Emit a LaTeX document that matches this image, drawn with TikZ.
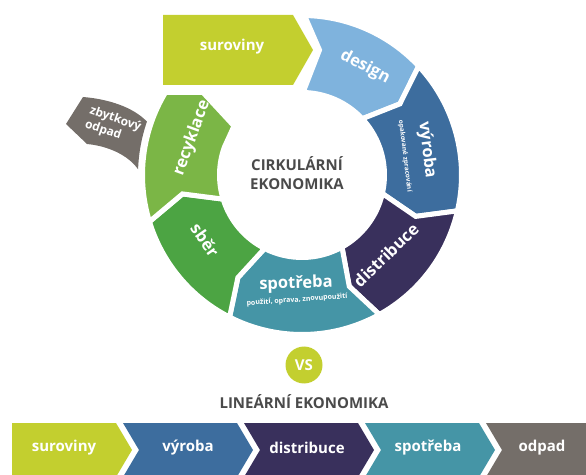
\documentclass[tikz,border=0pt]{standalone}
\usepackage{fontspec}
\setmainfont{Open Sans}
\definecolor{cyel}{HTML}{C3CF2F}
\definecolor{clblue}{HTML}{7FB3DD}
\definecolor{cblue}{HTML}{3D6D9E}
\definecolor{cnavy}{HTML}{39305C}
\definecolor{cteal}{HTML}{4595A6}
\definecolor{cgreen}{HTML}{4CA443}
\definecolor{clgreen}{HTML}{7BB646}
\definecolor{cbrown}{HTML}{746E69}
\definecolor{ctext}{HTML}{4A4A4A}
\begin{document}
\begin{tikzpicture}[x=1pt,y=1pt,
  seg/.style={draw=white, line width=5pt, line join=miter},
  lbl/.style={text=white, font=\bfseries\fontsize{16.5}{18}\selectfont, inner sep=0pt},
  smalllbl/.style={text=white, font=\bfseries\fontsize{6.5}{7}\selectfont, inner sep=0pt},
  lintext/.style={text=white, font=\bfseries\fontsize{15}{16}\selectfont, inner sep=0pt},
  headtext/.style={text=ctext, font=\bfseries\fontsize{15}{19}\selectfont, inner sep=0pt, align=center}]
\useasboundingbox (0,0) rectangle (586,474);
\clip (0,0) rectangle (586,474);

% top raw material arrow
\fill[cyel] (163,459) -- (293,459) -- (313,424) -- (293,389) -- (163,389) -- cycle;
\node[lintext] (surtop) at (232,427) {suroviny};

% ring
\begin{scope}[shift={(302,299)}]
  % design
  \fill[clblue, seg] (89.1:159.5) arc[start angle=89.1, end angle=43, radius=159.5]
    -- (36:121) -- (43:82.5) arc[start angle=43, end angle=89.3, radius=82.5]
    -- (17.5,125) -- cycle;
  % vyroba
  \fill[cblue, seg] (43:159.5) arc[start angle=43, end angle=-13, radius=159.5]
    -- (-20:121) -- (-13:82.5) arc[start angle=-13, end angle=43, radius=82.5]
    -- (36:121) -- cycle;
  % distribuce
  \fill[cnavy, seg] (-13:159.5) arc[start angle=-13, end angle=-61, radius=159.5]
    -- (-67:121) -- (-61:82.5) arc[start angle=-61, end angle=-13, radius=82.5]
    -- (-20:121) -- cycle;
  % spotreba
  \fill[cteal, seg] (-61:159.5) arc[start angle=-61, end angle=-117, radius=159.5]
    -- (-122:121) -- (-117:82.5) arc[start angle=-117, end angle=-61, radius=82.5]
    -- (-67:121) -- cycle;
  % sber
  \fill[cgreen, seg] (-117:159.5) arc[start angle=-117, end angle=-163, radius=159.5]
    -- (-171:121) -- (-163:82.5) arc[start angle=-163, end angle=-117, radius=82.5]
    -- (-122:121) -- cycle;
  % recyklace
  \fill[clgreen, seg] (197:159.5) arc[start angle=197, end angle=148.85, radius=159.5]
    -- (-99,82.5) -- (-68,49) -- (160.5:82.5) arc[start angle=160.5, end angle=197, radius=82.5]
    -- (189:121) -- cycle;
\end{scope}

% residual waste
\fill[cbrown] (83,377) -- (66,350) -- (87,330)
  .. controls (108,328) and (128,319) .. (138.1,304.7)
  arc[start angle=178, end angle=161, radius=164]
  .. controls (133,367) and (108,375) .. (83,377) -- cycle;
\node[text=white, font=\bfseries\fontsize{12}{14.5}\selectfont, inner sep=0pt, align=left, rotate=-19] (zbyt) at (113,348) {zbytkový\\odpad};

% ring labels
\node[lbl, rotate=-28] (ldesign) at (365,407) {design};
\node[lbl, rotate=-83] (lvyroba) at (427,324) {výroba};
\node[smalllbl, rotate=-83] (lvyrsub) at (405,318) {opakované zpracování};
\node[lbl, rotate=44] (ldist) at (386,219) {distribuce};
\node[lbl, rotate=2] (lspot) at (296,190) {spotřeba};
\node[smalllbl, font=\bfseries\fontsize{7}{8}\selectfont, rotate=4] (lspotsub) at (297,174) {použití, oprava, znovupoužití};
\node[lbl, rotate=-55] (lsber) at (205,234) {sběr};
\node[lbl, rotate=70] (lrec) at (192,336) {recyklace};

% centre
\node[headtext] (cirk) at (297,301) {CIRKULÁRNÍ\\EKONOMIKA};

% VS
\node[circle, fill=cyel, minimum size=37pt, inner sep=0pt, text=white, font=\bfseries\fontsize{15}{16}\selectfont] (vs) at (304,109) {VS};
\node[headtext] (lin) at (304,72) {LINEÁRNÍ EKONOMIKA};

% linear chain
\fill[cyel] (12,51) -- (116,51) -- (132,24) -- (116,-3) -- (12,-3) -- cycle;
\fill[cblue] (123,51) -- (237,51) -- (253,24) -- (237,-3) -- (123,-3) -- (139,24) -- cycle;
\fill[cnavy] (244,51) -- (358,51) -- (374,24) -- (358,-3) -- (244,-3) -- (260,24) -- cycle;
\fill[cteal] (365,51) -- (479,51) -- (495,24) -- (479,-3) -- (365,-3) -- (381,24) -- cycle;
\fill[cbrown] (486,51) -- (600,51) -- (600,-3) -- (486,-3) -- (502,24) -- cycle;
\node[lintext] (b1) at (64,26) {suroviny};
\node[lintext] (b2) at (188,26) {výroba};
\node[lintext] (b3) at (307,26) {distribuce};
\node[lintext] (b4) at (428,26) {spotřeba};
\node[lintext] (b5) at (542,26) {odpad};
\end{tikzpicture}
\end{document}
